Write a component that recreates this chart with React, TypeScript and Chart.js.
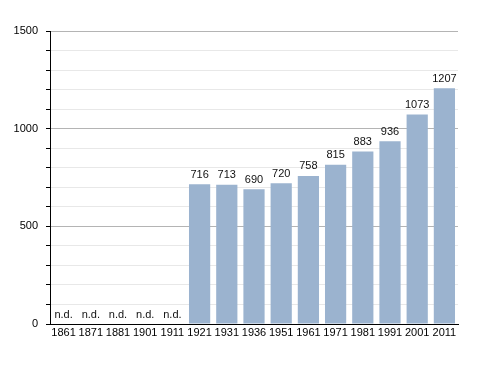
import React, { useEffect, useRef } from "react";
import { Chart, registerables } from "chart.js";

Chart.register(...registerables);

const years = ["1861", "1871", "1881", "1901", "1911", "1921", "1931", "1936", "1951", "1961", "1971", "1981", "1991", "2001", "2011"];
const population: (number | null)[] = [null, null, null, null, null, 716, 713, 690, 720, 758, 815, 883, 936, 1073, 1207];
const yMax = 1500;
const yStep = 100;
const majorStep = 500;

const FONT = "'Liberation Sans', Arial, sans-serif";

const labelPlugin = {
  id: "valueLabels",
  afterDatasetsDraw(chart: any) {
    const ctx = chart.ctx;
    const meta = chart.getDatasetMeta(0);
    const yScale = chart.scales.y;
    ctx.save();
    ctx.font = `11px ${FONT}`;
    ctx.fillStyle = "#111";
    ctx.textAlign = "center";
    ctx.textBaseline = "bottom";
    population.forEach((v, i) => {
      const el = meta.data[i];
      const x = el.x;
      if (v === null) {
        ctx.fillText("n.d.", x, yScale.getPixelForValue(0) - 4);
      } else {
        ctx.fillText(String(v), x, yScale.getPixelForValue(v) - 4);
      }
    });
    ctx.restore();
  },
};

export default function App() {
  const ref = useRef<HTMLCanvasElement>(null);
  useEffect(() => {
    if (!ref.current) return;
    const chart = new Chart(ref.current, {
      type: "bar",
      data: {
        labels: years,
        datasets: [
          {
            data: population as any,
            backgroundColor: "#9bb3cf",
            borderWidth: 0,
            barPercentage: 0.78,
            categoryPercentage: 1,
          },
        ],
      },
      options: {
        animation: false,
        responsive: false,
        maintainAspectRatio: false,
        layout: { padding: { top: 31, right: 30, left: 0, bottom: 0 } },
        plugins: { legend: { display: false }, tooltip: { enabled: false } },
        scales: {
          x: {
            grid: { display: false, drawTicks: false },
            border: { display: true, color: "#000", width: 1 },
            ticks: { color: "#000", font: { family: FONT, size: 11 }, padding: 2, maxRotation: 0, autoSkip: false },
            afterFit: (s: any) => {
              s.height = 49;
            },
          },
          y: {
            min: 0,
            max: yMax,
            ticks: {
              stepSize: yStep,
              autoSkip: false,
              color: "#000",
              font: { family: FONT, size: 11 },
              padding: 8,
              callback: (v: any) => (Number(v) % majorStep === 0 ? String(v) : ""),
            },
            grid: {
              color: (c: any) => (c.tick && c.tick.value % majorStep === 0 ? "#b4b4b4" : "#e8e8e8"),
              drawTicks: true,
              tickLength: 4,
              tickColor: "#000",
            },
            border: { display: true, color: "#000", width: 1 },
            afterFit: (s: any) => {
              s.width = 50;
            },
          },
        },
      },
      plugins: [labelPlugin],
    });
    return () => chart.destroy();
  }, []);
  return (
    <div style={{ position: "fixed", left: 0, top: 0, width: 488, height: 373, background: "#fff" }}>
      <canvas ref={ref} width={488} height={373} style={{ width: 488, height: 373 }} />
    </div>
  );
}
